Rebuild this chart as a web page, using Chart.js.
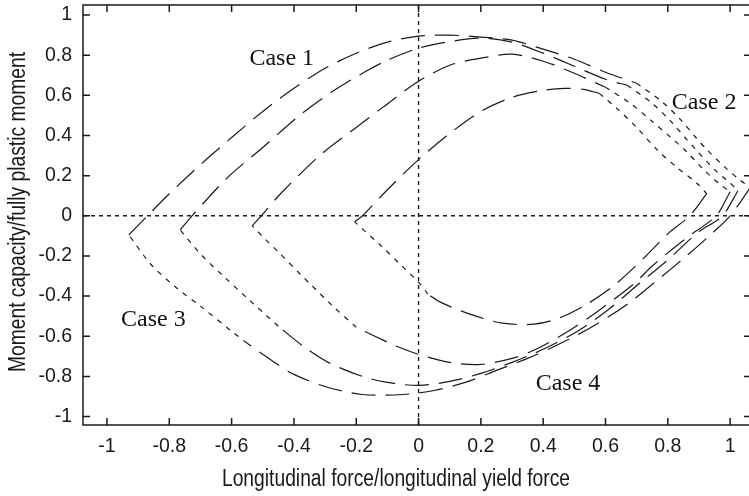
<!DOCTYPE html>
<html>
<head>
<meta charset="utf-8">
<script src="https://cdn.jsdelivr.net/npm/chart.js@4.4.0/dist/chart.umd.min.js"></script>
<style>
  html, body { margin: 0; padding: 0; background: #fff; overflow: hidden; }
  canvas { display: block; }
</style>
</head>
<body>
<canvas id="myChart" width="752" height="496"></canvas>
<script>
// axis ticks
const xTicks = [-1, -0.8, -0.6, -0.4, -0.2, 0, 0.2, 0.4, 0.6, 0.8, 1];
const yTicks = [-1, -0.8, -0.6, -0.4, -0.2, 0, 0.2, 0.4, 0.6, 0.8, 1];

// curve A (outermost)
const aUpper = [[-0.93,-0.095],[-0.87,0],[-0.8,0.11],[-0.7,0.255],[-0.6,0.39],[-0.5,0.52],[-0.4,0.635],[-0.3,0.735],[-0.2,0.81],[-0.1,0.865],[0,0.895],[0.1,0.9],[0.2,0.89],[0.3,0.875],[0.4,0.83],[0.5,0.78],[0.6,0.715],[0.7,0.66]];
const aRight = [[0.7,0.66],[0.78,0.57],[0.84,0.48],[0.89,0.39],[0.925,0.33],[0.985,0.24],[1.03,0.18],[1.065,0.14]];
const aLower = [[1.065,0.14],[1.0,0],[0.94,-0.09],[0.86,-0.2],[0.755,-0.335],[0.67,-0.44],[0.56,-0.55],[0.45,-0.64],[0.35,-0.71],[0.25,-0.77],[0.15,-0.83],[0.05,-0.87],[-0.05,-0.89],[-0.18,-0.89],[-0.29,-0.855],[-0.4,-0.79],[-0.5,-0.69],[-0.55,-0.635]];
const aLeft = [[-0.55,-0.635],[-0.6,-0.575],[-0.7,-0.45],[-0.78,-0.355],[-0.86,-0.24],[-0.93,-0.095]];

// curve B
const bUpper = [[-0.765,-0.07],[-0.727,0],[-0.61,0.195],[-0.5,0.34],[-0.39,0.49],[-0.285,0.61],[-0.18,0.71],[-0.1,0.775],[0,0.835],[0.09,0.865],[0.2,0.885],[0.3,0.865],[0.4,0.81],[0.5,0.745],[0.6,0.68],[0.67,0.65]];
const bRight = [[0.67,0.65],[0.75,0.56],[0.81,0.47],[0.855,0.39],[0.89,0.33],[0.95,0.23],[0.995,0.17],[1.025,0.125]];
const bLower = [[1.025,0.125],[0.975,0],[0.895,-0.085],[0.8,-0.22],[0.71,-0.335],[0.615,-0.46],[0.51,-0.575],[0.4,-0.665],[0.3,-0.73],[0.2,-0.785],[0.1,-0.825],[0,-0.845],[-0.1,-0.83],[-0.18,-0.8],[-0.29,-0.73],[-0.37,-0.65],[-0.45,-0.55]];
const bLeft = [[-0.45,-0.55],[-0.55,-0.41],[-0.62,-0.31],[-0.7,-0.19],[-0.765,-0.07]];

// curve C
const cUpper = [[-0.534,-0.05],[-0.505,0],[-0.44,0.115],[-0.31,0.31],[-0.2,0.44],[-0.115,0.54],[0,0.67],[0.1,0.75],[0.2,0.785],[0.3,0.805],[0.4,0.77],[0.5,0.71],[0.6,0.64]];
const cRight = [[0.6,0.64],[0.68,0.56],[0.75,0.47],[0.81,0.39],[0.86,0.32],[0.915,0.23],[0.965,0.16],[1.0,0.12]];
const cLower = [[1.0,0.12],[0.955,0],[0.86,-0.11],[0.75,-0.25],[0.69,-0.34],[0.58,-0.47],[0.475,-0.58],[0.37,-0.67],[0.3,-0.71],[0.2,-0.74],[0.1,-0.73],[0,-0.69],[-0.07,-0.65],[-0.14,-0.6],[-0.2,-0.555]];
const cLeft = [[-0.2,-0.555],[-0.275,-0.45],[-0.38,-0.29],[-0.45,-0.18],[-0.49,-0.12],[-0.534,-0.05]];

// curve D (innermost)
const dUpper = [[-0.205,-0.03],[-0.18,0],[-0.1,0.13],[0,0.28],[0.1,0.41],[0.2,0.52],[0.3,0.59],[0.4,0.625],[0.47,0.635],[0.53,0.63],[0.58,0.61]];
const dRight = [[0.58,0.61],[0.64,0.53],[0.7,0.44],[0.765,0.33],[0.83,0.24],[0.895,0.16],[0.925,0.11]];
const dLower = [[0.925,0.11],[0.87,0],[0.8,-0.09],[0.73,-0.2],[0.625,-0.35],[0.53,-0.45],[0.45,-0.51],[0.37,-0.54],[0.27,-0.535],[0.165,-0.49],[0.07,-0.43],[0.03,-0.39]];
const dLeft = [[0.03,-0.39],[0,-0.33],[-0.06,-0.24],[-0.12,-0.15],[-0.205,-0.03]];

// text labels, placed in data coordinates (left end, baseline)
const caseLabels = ["Case 1", "Case 2", "Case 3", "Case 4"];
const caseX = [-0.543, 0.813, -0.955, 0.376];
const caseY = [0.751, 0.532, -0.547, -0.868];

const longDash = [24, 10];
const shortDash = [5, 6];

function toPts(arr) {
  return arr.map(p => ({ x: p[0], y: p[1] }));
}

function seg(arr, dash) {
  return {
    data: toPts(arr),
    showLine: true,
    borderColor: "#1a1a1a",
    borderWidth: 1.2,
    borderDash: dash,
    pointRadius: 0,
    tension: 0.3,
    fill: false,
  };
}

const datasets = [
  seg(aUpper, longDash), seg(aRight, shortDash), seg(aLower, longDash), seg(aLeft, shortDash),
  seg(bUpper, longDash), seg(bRight, shortDash), seg(bLower, longDash), seg(bLeft, shortDash),
  seg(cUpper, longDash), seg(cRight, shortDash), seg(cLower, longDash), seg(cLeft, shortDash),
  seg(dUpper, longDash), seg(dRight, shortDash), seg(dLower, longDash), seg(dLeft, shortDash),
];

// box, inward ticks, zero lines and texts
const framePlugin = {
  id: "frame",
  beforeDraw(chart) {
    const ctx = chart.ctx;
    ctx.save();
    ctx.fillStyle = "#fff";
    ctx.fillRect(0, 0, chart.width, chart.height);
    ctx.restore();
  },
  beforeDatasetsDraw(chart) {
    const { ctx, chartArea: a, scales: { x, y } } = chart;
    ctx.save();
    ctx.strokeStyle = "#1a1a1a";
    ctx.lineWidth = 1.4;
    ctx.setLineDash([4, 4]);
    const x0 = x.getPixelForValue(0);
    const y0 = y.getPixelForValue(0);
    ctx.beginPath();
    ctx.moveTo(x0, a.top);
    ctx.lineTo(x0, a.bottom);
    ctx.moveTo(a.left, y0);
    ctx.lineTo(a.right, y0);
    ctx.stroke();
    ctx.restore();
  },
  afterDraw(chart) {
    const { ctx, chartArea: a, scales: { x, y } } = chart;
    ctx.save();
    ctx.strokeStyle = "#1a1a1a";
    ctx.lineWidth = 1.5;
    ctx.strokeRect(a.left, a.top, a.right - a.left, a.bottom - a.top);
    const tl = 7;
    ctx.beginPath();
    xTicks.forEach(v => {
      const px = x.getPixelForValue(v);
      ctx.moveTo(px, a.bottom); ctx.lineTo(px, a.bottom - tl);
      ctx.moveTo(px, a.top); ctx.lineTo(px, a.top + tl);
    });
    yTicks.forEach(v => {
      const py = y.getPixelForValue(v);
      ctx.moveTo(a.left, py); ctx.lineTo(a.left + tl, py);
      ctx.moveTo(a.right, py); ctx.lineTo(a.right - tl, py);
    });
    ctx.stroke();

    // case labels
    ctx.fillStyle = "#111";
    ctx.font = '24px "Liberation Serif", "Times New Roman", serif';
    ctx.textAlign = "left";
    ctx.textBaseline = "alphabetic";
    caseLabels.forEach((t, i) => {
      ctx.fillText(t, x.getPixelForValue(caseX[i]), y.getPixelForValue(caseY[i]));
    });

    // axis titles (condensed sans, like the original)
    ctx.fillStyle = "#1a1a1a";
    ctx.font = '23.5px "Liberation Sans", Arial, sans-serif';
    ctx.textAlign = "center";
    ctx.save();
    ctx.translate(396, 486);
    ctx.scale(0.82, 1);
    ctx.fillText("Longitudinal force/longitudinal yield force", 0, 0);
    ctx.restore();
    ctx.translate(25, 212);
    ctx.rotate(-Math.PI / 2);
    ctx.scale(0.82, 1);
    ctx.fillText("Moment capacity/fully plastic moment", 0, 0);
    ctx.restore();
  },
};

const ctx = document.getElementById("myChart").getContext("2d");
new Chart(ctx, {
  type: "scatter",
  data: { datasets: datasets },
  plugins: [framePlugin],
  options: {
    responsive: false,
    animation: false,
    layout: { padding: { top: 5, right: 1, left: 0, bottom: 0 } },
    plugins: { legend: { display: false }, tooltip: { enabled: false } },
    scales: {
      x: {
        type: "linear",
        min: -1.077,
        max: 1.067,
        grid: { display: false, drawTicks: false },
        border: { display: false },
        ticks: {
          stepSize: 0.2,
          includeBounds: false,
          padding: 10,
          color: "#1a1a1a",
          font: { family: '"Liberation Sans", Arial, sans-serif', size: 19.5 },
          callback: v => String(Math.round(v * 10) / 10),
          maxRotation: 0,
          autoSkip: false,
        },
        afterFit: s => { s.height = 71; s.paddingLeft = 0; s.paddingRight = 0; },
      },
      y: {
        type: "linear",
        min: -1.042,
        max: 1.05,
        grid: { display: false, drawTicks: false },
        border: { display: false },
        ticks: {
          stepSize: 0.2,
          includeBounds: false,
          padding: 11,
          color: "#1a1a1a",
          font: { family: '"Liberation Sans", Arial, sans-serif', size: 19.5 },
          callback: v => String(Math.round(v * 10) / 10),
          autoSkip: false,
        },
        afterFit: s => { s.width = 83; s.paddingTop = 0; s.paddingBottom = 0; },
      },
    },
  },
});
</script>
</body>
</html>
